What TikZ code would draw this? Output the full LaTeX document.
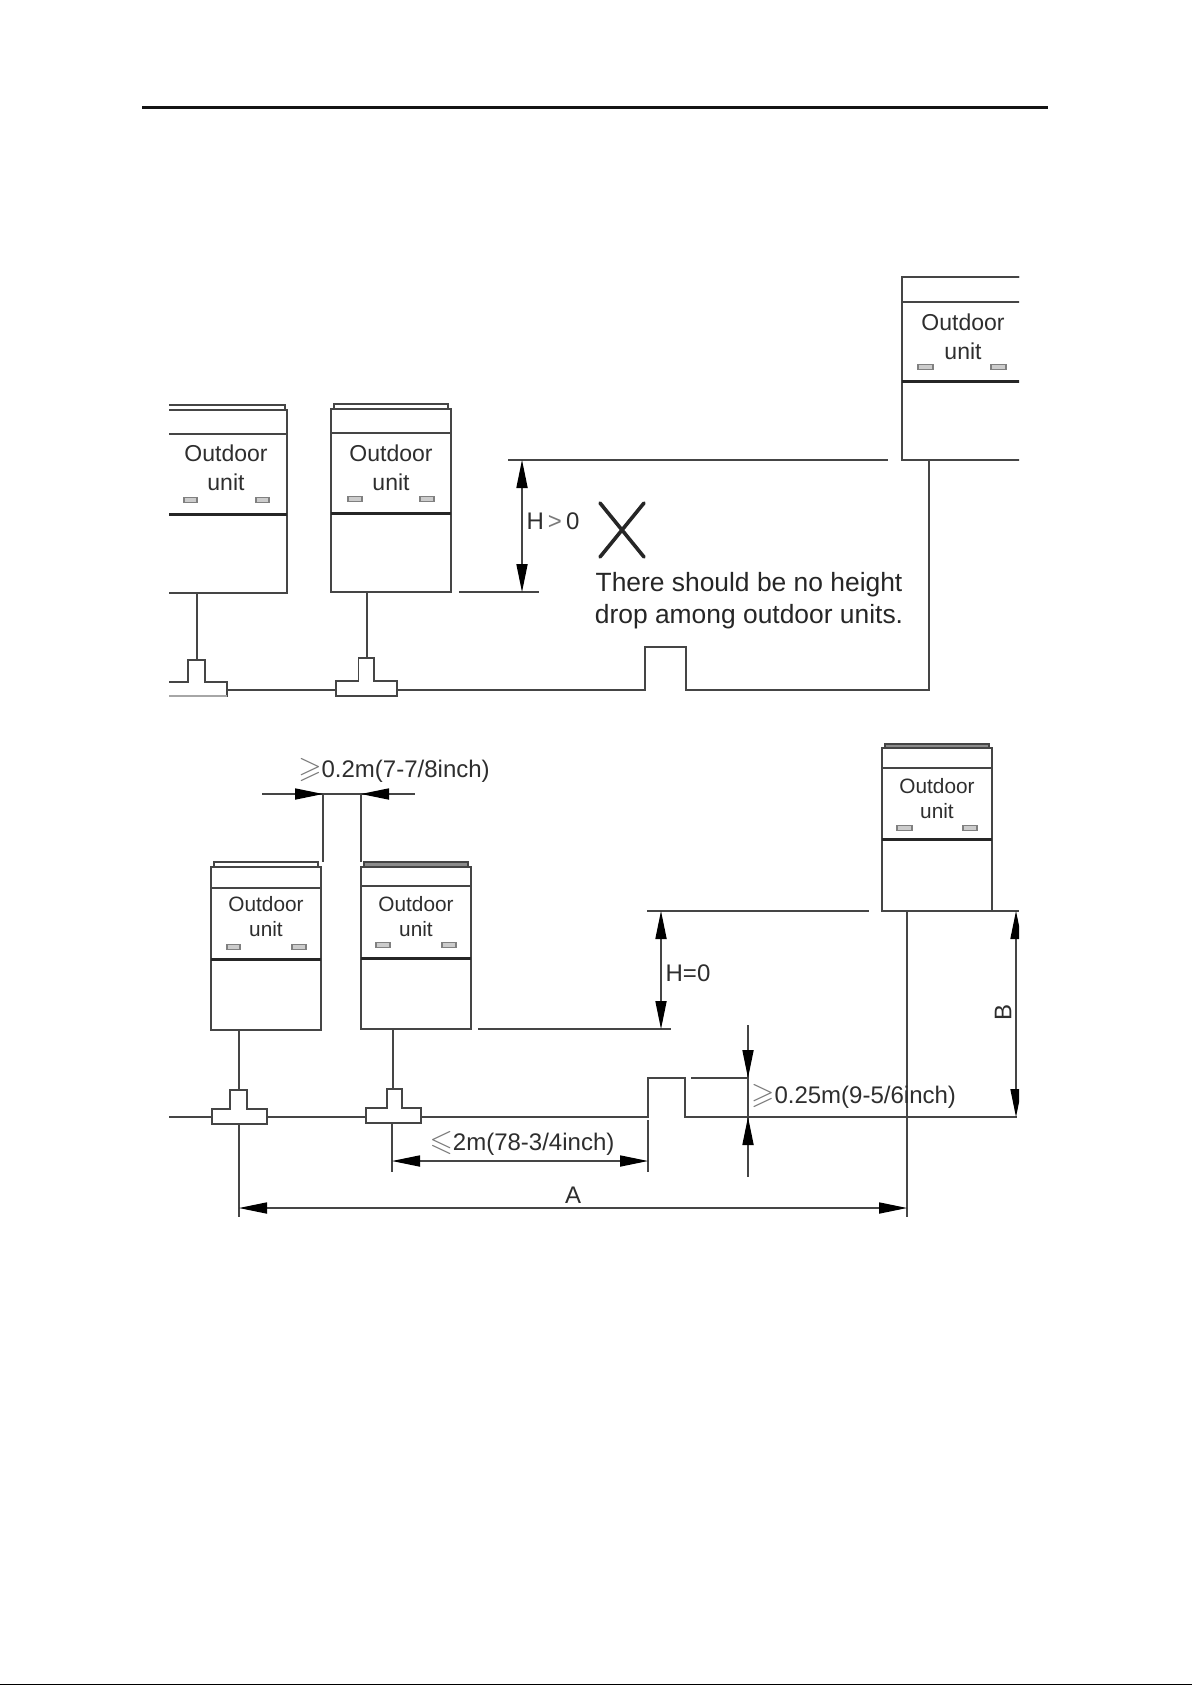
\documentclass[tikz,border=0pt]{standalone}
\usepackage{fontspec}
\usepackage{amssymb}
\setmainfont{Liberation Sans}
\usetikzlibrary{arrows.meta}
\definecolor{ink}{gray}{0.27}
\definecolor{soft}{gray}{0.48}
\newcommand{\slge}{{\color{soft}\scalebox{1.25}{$\geqslant$}}}
\newcommand{\slle}{{\color{soft}\scalebox{1.25}{$\leqslant$}}}
\tikzset{
  tipa/.tip={Triangle[length=28pt,width=11.5pt,fill=black,line width=0pt]},
  thinl/.style={draw=ink,line width=1.8pt},
  medl/.style={draw=ink,line width=2.2pt},
  thickl/.style={draw=black!85,line width=3pt},
  slot/.style={draw=black!50,fill=black!20,line width=1.2pt},
  dim/.style={draw=ink,line width=1.7pt},
  dimtip/.style={dim,tipa-tipa},
  lab/.style={inner sep=0pt,text=black!82,font=\fontsize{24}{24}\selectfont,anchor=center},
  ulab/.style={inner sep=0pt,text=black!82,align=center,anchor=center},
}
\newcommand{\unitbox}[9]{% left, right, captop, bodytop, line2, thick, bottom, capinset, capfill
  \ifx&#9&\else\fill[black!45] ({#1+#8},#3) rectangle ({#2-#8},#4);\fi
  \draw[medl] (#1,#7) -- (#1,#4) -- (#2,#4) -- (#2,#7) -- cycle;
  \draw[thinl] ({#1+#8},#4) -- ({#1+#8},#3) -- ({#2-#8},#3) -- ({#2-#8},#4);
  \draw[thinl] (#1,#5) -- (#2,#5);
  \draw[thickl] (#1,#6) -- (#2,#6);
}
\newcommand{\slotpair}[5]{% x1 x2 x3 x4 y
  \draw[slot] (#1,{#5-2.5}) rectangle (#2,{#5+2.5});
  \draw[slot] (#3,{#5-2.5}) rectangle (#4,{#5+2.5});
}
\begin{document}
\begin{tikzpicture}[x=1pt,y=-1pt]
\useasboundingbox (0,0) rectangle (1192,1685);
\fill[white] (0,0) rectangle (1192,1685);
% header rule
\draw[black!92,line width=3.3pt] (142,107.5) -- (1048,107.5);
\fill[black] (0,1683.6) rectangle (1192,1685);

% ===== upper figure =====
\begin{scope}
\clip (169,270) rectangle (1019,696.8);
\unitbox{140}{287}{405}{410}{434}{514}{593}{2}{}
\unitbox{331}{451}{404}{409}{433}{513}{592}{3}{}
\unitbox{902}{1060}{277}{277}{302}{381}{460}{0}{}
\slotpair{184}{197}{256}{269}{500}
\slotpair{348}{362}{420}{434}{499}
\slotpair{918}{933}{991}{1006}{367}
% T pieces
\draw[thinl] (150,696) -- (150,682) -- (188,682) -- (188,660) -- (205,660) -- (205,682) -- (227,682) -- (227,697);
\draw[black!35,line width=1.2pt] (150,696) -- (227,696);
\draw[thinl] (336,697) -- (336,681) -- (358.5,681) -- (358.5,658) -- (374,658) -- (374,681) -- (397,681) -- (397,697);
\draw[thinl] (336,696) -- (397,696);
\coordinate (ua) at (197,593); \coordinate (ta) at (197,660);
\coordinate (ub) at (367,592); \coordinate (tb) at (367,658);
\draw[thinl] (ua) -- (ta);
\draw[thinl] (ub) -- (tb);
\draw[thinl] (227,690) -- (336,690);
\draw[thinl] (397,690) -- (645,690) -- (645,647) -- (686,647) -- (686,690) -- (929,690) -- (929,460);
\end{scope}
\node[ulab,font=\fontsize{23}{29}\selectfont] (n1) at (226,468) {Outdoor\\unit};
\node[ulab,font=\fontsize{23}{29}\selectfont] (n2) at (391,468) {Outdoor\\unit};
\node[ulab,font=\fontsize{23}{29}\selectfont] (n3) at (963,336.5) {Outdoor\\unit};
% H>0
\draw[thinl] (508,460) -- (888,460);
\draw[thinl] (459,592) -- (539,592);
\draw[dimtip] (522,460) -- (522,592);
\node[lab] (h1) at (553,521) {H\,{\color{soft}>}\,0};
\draw[black!85,line width=3.6pt,line cap=round] (600,503) -- (644,557) (600,557) -- (644,503);
\node[inner sep=0pt,anchor=center,align=center,text=black!85,font=\fontsize{26.4}{32}\selectfont] (warn) at (749,601) {There should be no height\\drop among outdoor units.};

% ===== lower figure =====
\begin{scope}
\clip (169,740) rectangle (1019,1218);
\unitbox{211}{321}{862}{867}{888}{959}{1030}{3}{}
\unitbox{361}{471}{862}{867}{886}{958}{1029}{3}{x}
\unitbox{882}{992}{744}{748}{768}{839}{911}{3}{x}
\slotpair{227}{240}{292}{306}{947}
\slotpair{376}{390}{442}{456}{945}
\slotpair{897}{912}{963}{977}{828}
% tees
\draw[thinl] (212,1109) -- (230,1109) -- (230,1090) -- (247,1090) -- (247,1109) -- (267,1109) -- (267,1124) -- (212,1124) -- cycle;
\draw[thinl] (366,1108) -- (387,1108) -- (387,1089) -- (402,1089) -- (402,1108) -- (421,1108) -- (421,1123) -- (366,1123) -- cycle;
\draw[thinl] (239,1030) -- (239,1090);
\draw[thinl] (393,1029) -- (393,1089);
\draw[thinl] (169,1117) -- (212,1117);
\draw[thinl] (267,1117) -- (366,1117);
\draw[thinl] (421,1117) -- (648,1117) -- (648,1078) -- (685,1078) -- (685,1117) -- (1017,1117);
% H=0
\draw[thinl] (647,911) -- (869,911);
\draw[thinl] (478,1029) -- (671,1029);
\draw[dimtip] (661,911) -- (661,1029);
% B
\draw[thinl] (992,911) -- (1019,911);
\draw[dimtip] (1016,911) -- (1016,1117);
% A
\draw[thinl] (239,1124) -- (239,1217);
\draw[thinl] (907,911) -- (907,1217);
\draw[dimtip] (239,1208) -- (907,1208);
\end{scope}
\node[ulab,font=\fontsize{20.8}{25}\selectfont] (n4) at (266,916.5) {Outdoor\\unit};
\node[ulab,font=\fontsize{20.8}{25}\selectfont] (n5) at (416,916.5) {Outdoor\\unit};
\node[ulab,font=\fontsize{20.8}{25}\selectfont] (n6) at (937,798.5) {Outdoor\\unit};
% >=0.2
\draw[thinl] (323,794) -- (323,862);
\draw[thinl] (361,794) -- (361,862);
\draw[thinl] (262,794) -- (415,794);
\draw[dim,-tipa] (295,794) -- (323,794);
\draw[dim,-tipa] (389,794) -- (361,794);
\node[lab] (d1) at (394,770) {\slge 0.2m(7-7/8inch)};
% <=2
\draw[thinl] (392,1123) -- (392,1172);
\draw[thinl] (648,1120) -- (648,1172);
\draw[dimtip] (392,1161) -- (648,1161);
\node[lab] (d2) at (522,1143) {\slle 2m(78-3/4inch)};
% >=0.25
\draw[thinl] (691,1078) -- (748,1078);
\draw[thinl] (748,1025) -- (748,1177);
\draw[dim,-tipa] (748,1050) -- (748,1078);
\draw[dim,-tipa] (748,1145) -- (748,1117);
\node[lab,anchor=west] (d3) at (751,1096) {\slge 0.25m(9-5/6inch)};
\node[lab] (h0) at (688,973) {H=0};
\node[lab] (la) at (573,1195) {A};
\node[lab,rotate=90] (lb) at (1003,1012) {B};
\end{tikzpicture}
\end{document}
